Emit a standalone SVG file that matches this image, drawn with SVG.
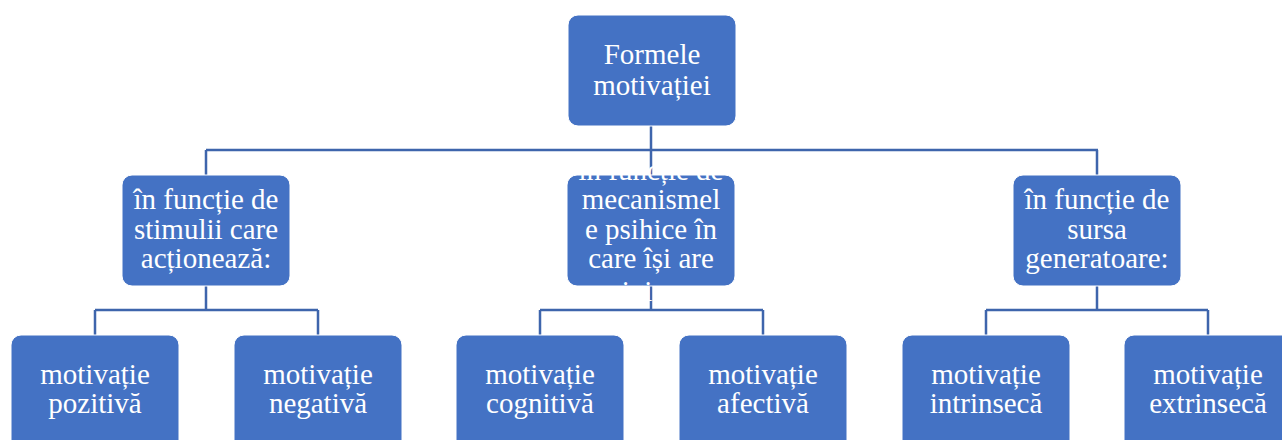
<svg xmlns="http://www.w3.org/2000/svg" width="1282" height="440" viewBox="0 0 1282 440">
  <style>
    .box { fill: #4472C4; stroke: #FFFFFF; stroke-width: 1; }
    .lbl { fill: #FFFFFF; font-family: "Liberation Serif", "Times New Roman", serif; font-size: 29px; text-anchor: middle; }
    .conn { fill: none; stroke: #3E65AC; stroke-width: 2.5; }
  </style>
  <rect width="1282" height="440" fill="#FFFFFF"/>

  <!-- connectors -->
  <g id="connectors">
    <path class="conn" d="M651 126 V150 M206 150 H1098 M206 150 V175 M651 150 V175 M1097 150 V175"/>
    <path class="conn" d="M206 286 V310 M95 310 H318 M95 310 V335 M318 310 V335"/>
    <path class="conn" d="M651 286 V310 M540 310 H763 M540 310 V335 M763 310 V335"/>
    <path class="conn" d="M1097 286 V310 M986 310 H1208 M986 310 V335 M1208 310 V335"/>
  </g>

  <!-- root -->
  <g id="root">
    <rect class="box" x="568" y="15" width="168" height="111" rx="10"/>
    <text class="lbl"><tspan x="652" y="64">Formele</tspan><tspan x="652" y="95">motivației</tspan></text>
  </g>

  <!-- second level -->
  <g id="stimuli">
    <rect class="box" x="122" y="175" width="168" height="111" rx="10"/>
    <text class="lbl"><tspan x="206" y="209">în funcție de</tspan><tspan x="206" y="239">stimulii care</tspan><tspan x="206" y="268">acționează:</tspan></text>
  </g>
  <g id="mecanisme">
    <rect class="box" x="567" y="175" width="168" height="111" rx="10"/>
    <text class="lbl"><tspan x="651" y="180">în funcție de</tspan><tspan x="651" y="209">mecanismel</tspan><tspan x="651" y="239">e psihice în</tspan><tspan x="651" y="268">care își are</tspan><tspan x="645" y="301">originea</tspan></text>
  </g>
  <g id="sursa">
    <rect class="box" x="1013" y="175" width="168" height="111" rx="10"/>
    <text class="lbl"><tspan x="1097" y="209">în funcție de</tspan><tspan x="1097" y="239">sursa</tspan><tspan x="1097" y="268">generatoare:</tspan></text>
  </g>

  <!-- third level -->
  <g id="pozitiva">
    <rect class="box" x="11" y="335" width="168" height="115" rx="10"/>
    <text class="lbl"><tspan x="95" y="384">motivație</tspan><tspan x="95" y="413">pozitivă</tspan></text>
  </g>
  <g id="negativa">
    <rect class="box" x="234" y="335" width="168" height="115" rx="10"/>
    <text class="lbl"><tspan x="318" y="384">motivație</tspan><tspan x="318" y="413">negativă</tspan></text>
  </g>
  <g id="cognitiva">
    <rect class="box" x="456" y="335" width="168" height="115" rx="10"/>
    <text class="lbl"><tspan x="540" y="384">motivație</tspan><tspan x="540" y="413">cognitivă</tspan></text>
  </g>
  <g id="afectiva">
    <rect class="box" x="679" y="335" width="168" height="115" rx="10"/>
    <text class="lbl"><tspan x="763" y="384">motivație</tspan><tspan x="763" y="413">afectivă</tspan></text>
  </g>
  <g id="intrinseca">
    <rect class="box" x="902" y="335" width="168" height="115" rx="10"/>
    <text class="lbl"><tspan x="986" y="384">motivație</tspan><tspan x="986" y="413">intrinsecă</tspan></text>
  </g>
  <g id="extrinseca">
    <rect class="box" x="1124" y="335" width="168" height="115" rx="10"/>
    <text class="lbl"><tspan x="1208" y="384">motivație</tspan><tspan x="1208" y="413">extrinsecă</tspan></text>
  </g>
</svg>
